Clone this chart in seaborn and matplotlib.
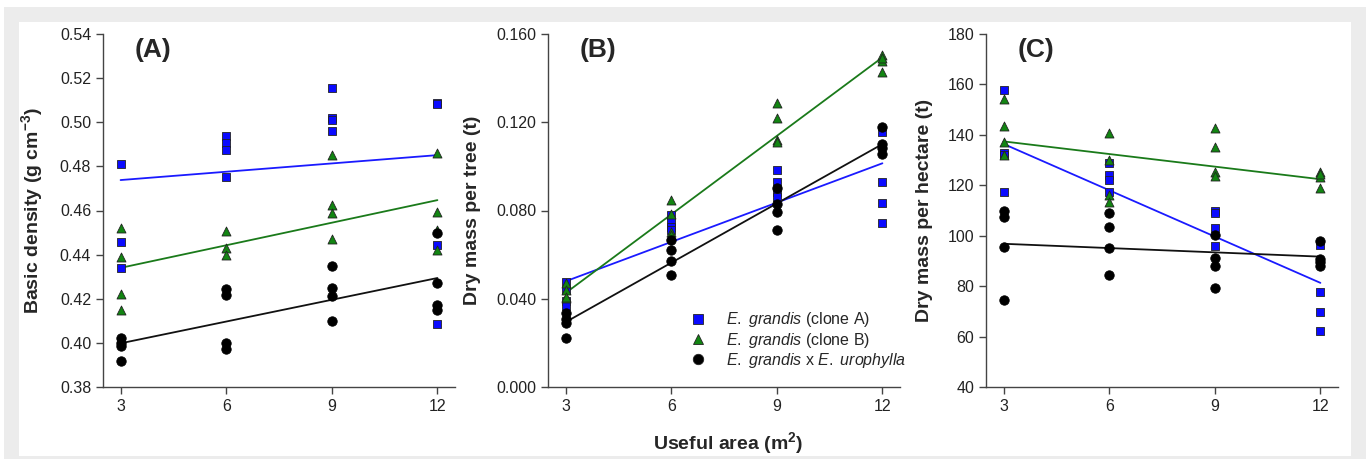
import numpy as np
import pandas as pd
import matplotlib
matplotlib.use("Agg")
import matplotlib.pyplot as plt
from matplotlib.patches import Rectangle
from matplotlib.lines import Line2D
from matplotlib.ticker import FormatStrFormatter
import seaborn as sns

sns.set_style("ticks")
plt.rcParams['font.family'] = ['Liberation Sans', 'DejaVu Sans']
plt.rcParams['mathtext.fontset'] = 'custom'
plt.rcParams['mathtext.rm'] = 'Liberation Sans'
plt.rcParams['mathtext.it'] = 'Liberation Sans:italic'
plt.rcParams['mathtext.bf'] = 'Liberation Sans:bold'

areas = [3, 6, 9, 12]
genotypes = ['clone A', 'clone B', 'hybrid']

# (A) basic density, g cm-3 -- one list per useful area
density_clone_a = [[0.481, 0.4458, 0.434], [0.4937, 0.4906, 0.4874, 0.475],
                   [0.5155, 0.5018, 0.5008, 0.4962], [0.5089, 0.5082, 0.4445, 0.4086]]
density_clone_b = [[0.452, 0.439, 0.422, 0.415], [0.4508, 0.4428, 0.4398],
                   [0.4852, 0.4627, 0.459, 0.4473], [0.486, 0.4595, 0.451, 0.442]]
density_hybrid = [[0.402, 0.400, 0.3985, 0.392], [0.4242, 0.4216, 0.400, 0.3973],
                  [0.4348, 0.4248, 0.4212, 0.4098], [0.4497, 0.4272, 0.4173, 0.4147]]

# (B) dry mass per tree, t
tree_clone_a = [[0.0478, 0.044, 0.039, 0.0365], [0.0779, 0.0748, 0.0726, 0.0711],
                [0.0983, 0.093, 0.0885, 0.0862], [0.1155, 0.0927, 0.0836, 0.0744]]
tree_clone_b = [[0.0471, 0.0438, 0.0403, 0.041], [0.0847, 0.0782, 0.0703, 0.0688],
                [0.1286, 0.1218, 0.112, 0.1112], [0.1506, 0.1479, 0.143, 0.149]]
tree_hybrid = [[0.0335, 0.031, 0.0289, 0.0224], [0.0665, 0.062, 0.057, 0.0506],
               [0.090, 0.0829, 0.0794, 0.0711], [0.1177, 0.1085, 0.1056, 0.110]]

# (C) dry mass per hectare, t
ha_clone_a = [[157.9, 133.0, 132.0, 117.5], [128.7, 124.1, 122.1, 117.5],
              [109.9, 108.9, 103.2, 95.9], [96.3, 77.5, 69.8, 62.1]]
ha_clone_b = [[154.2, 143.6, 137.0, 131.9], [140.7, 130.1, 116.2, 113.5],
              [142.9, 135.1, 125.2, 123.8], [125.4, 123.4, 119.1, 124.5]]
ha_hybrid = [[110.0, 107.5, 95.6, 74.4], [108.9, 103.3, 95.0, 84.4],
             [100.1, 91.3, 88.1, 79.1], [98.0, 90.6, 89.7, 88.1]]

# fitted lines read at area 3 and 12
fit_x = [3, 12]
density_fit = {'clone A': [0.4738, 0.4851], 'clone B': [0.434, 0.4647], 'hybrid': [0.3998, 0.4294]}
tree_fit = {'clone A': [0.0479, 0.1014], 'clone B': [0.0426, 0.1494], 'hybrid': [0.0294, 0.1101]}
ha_fit = {'clone A': [136.4, 81.3], 'clone B': [137.4, 122.4], 'hybrid': [96.8, 91.7]}

colors = {'clone A': '#0a0aff', 'clone B': '#128512', 'hybrid': '#000000'}
line_colors = {'clone A': '#1a1aff', 'clone B': '#1a7a1a', 'hybrid': '#111111'}
markers = {'clone A': 's', 'clone B': '^', 'hybrid': 'o'}
sizes = {'clone A': 36, 'clone B': 42, 'hybrid': 46}


def to_long(groups):
    rows = []
    for g, vals in zip(genotypes, groups):
        for a, vs in zip(areas, vals):
            for v in vs:
                rows.append((a, v, g))
    return pd.DataFrame(rows, columns=['area', 'value', 'genotype'])


def fit_frame(fit):
    rows = [(x, y, g) for g in genotypes for x, y in zip(fit_x, fit[g])]
    return pd.DataFrame(rows, columns=['area', 'value', 'genotype'])


fig = plt.figure(figsize=(13.66, 4.59), dpi=100)
fig.add_artist(Rectangle((4 / 1366, 0), 1, 1 - 7 / 459, transform=fig.transFigure,
                         facecolor='#ececec', edgecolor='none', zorder=-10))
fig.add_artist(Rectangle((19 / 1366, 3 / 459), 1332 / 1366, 434 / 459, transform=fig.transFigure,
                         facecolor='white', edgecolor='none', zorder=-9))

panels = [
    (103, [density_clone_a, density_clone_b, density_hybrid], density_fit,
     (0.38, 0.54), np.arange(0.38, 0.5401, 0.02), '%.2f',
     r'Basic density (g cm$^{\mathregular{-3}}$)', '(A)', -0.165),
    (548, [tree_clone_a, tree_clone_b, tree_hybrid], tree_fit,
     (0.0, 0.16), np.arange(0.0, 0.1601, 0.04), '%.3f',
     'Dry mass per tree (t)', '(B)', -0.19),
    (986, [ha_clone_a, ha_clone_b, ha_hybrid], ha_fit,
     (40, 180), np.arange(40, 181, 20), '%d',
     'Dry mass per hectare (t)', '(C)', -0.15),
]

for left, groups, fit, ylim, yticks, fmt, ylabel, letter, lab_x in panels:
    ax = fig.add_axes([left / 1366, 72 / 459, 352 / 1366, 353 / 459])
    ax.set_facecolor('none')
    fdf = fit_frame(fit)
    for g in genotypes:
        sns.lineplot(data=fdf[fdf['genotype'] == g], x='area', y='value', color=line_colors[g],
                     linewidth=1.3, ax=ax, legend=False, zorder=2)
    df = to_long(groups)
    for g in genotypes:
        sns.scatterplot(data=df[df['genotype'] == g], x='area', y='value', marker=markers[g],
                        color=colors[g], s=sizes[g], edgecolor='#222222' if g != 'hybrid' else 'black',
                        linewidth=0.6, ax=ax, legend=False, zorder=3)
    ax.set_xlim(2.5, 12.5)
    ax.set_ylim(*ylim)
    ax.set_xticks(areas)
    ax.set_yticks(yticks)
    ax.yaxis.set_major_formatter(FormatStrFormatter(fmt))
    ax.set_xlabel('')
    ax.set_ylabel(ylabel, fontsize=14, fontweight='bold')
    ax.yaxis.set_label_coords(lab_x, 0.5)
    ax.tick_params(direction='out', length=5, width=1, colors='#444444', labelsize=11.5,
                   labelcolor='#222222')
    for s in ['top', 'right']:
        ax.spines[s].set_visible(False)
    for s in ['left', 'bottom']:
        ax.spines[s].set_color('#444444')
        ax.spines[s].set_linewidth(1)
    ax.text(0.142, 0.955, letter, transform=ax.transAxes, fontsize=19, fontweight='bold',
            ha='center', va='center')

    if letter == '(B)':
        labels = [r'$\mathit{E.\ grandis}$ (clone A)', r'$\mathit{E.\ grandis}$ (clone B)',
                  r'$\mathit{E.\ grandis}$ x $\mathit{E.\ urophylla}$']
        handles = [Line2D([], [], linestyle='none', marker=markers[g], markersize=7.5,
                          markerfacecolor=colors[g], markeredgecolor='#222222', markeredgewidth=0.6)
                   for g in genotypes]
        ax.legend(handles, labels, loc='upper left', bbox_to_anchor=(0.364, 0.235), frameon=False,
                  fontsize=11.5, handletextpad=0.75, labelspacing=0.08, borderaxespad=0)

fig.text(728 / 1366, 1 - 443 / 459, r'Useful area (m$^{\mathregular{2}}$)', fontsize=14,
         fontweight='bold', ha='center', va='center')

fig.savefig('out.png', dpi=100)
